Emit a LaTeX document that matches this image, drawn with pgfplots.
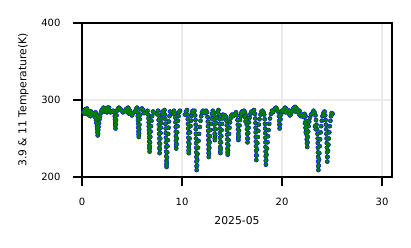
\documentclass[border=0pt]{standalone}
\usepackage{pgfplots}
\usepackage{pgfplotstable}
\pgfplotsset{compat=1.18}
\usepackage{fontspec}
\setmainfont{DejaVu Sans}
\definecolor{mplblue}{RGB}{0,0,255}
\definecolor{mplgreen}{RGB}{0,128,0}
\definecolor{gridgray}{RGB}{235,235,235}

\pgfplotstableread{
d t
0.15 284
0.25 287
0.35 288
0.45 286
0.55 283
0.65 281
0.75 280
0.85 279
0.95 281
1.05 283
0.3 282
0.5 289
0.7 285
0.9 285
1.2 282
1.3 278
1.4 274
1.45 270
1.5 266
1.52 262
1.55 258
1.57 254
1.6 257
1.62 261
1.65 265
1.7 270
1.75 275
1.8 279
1.88 283
1.35 284
1.5 280
1.65 278
1.95 286
2.05 288
2.15 290
2.25 289
2.35 287
2.45 288
2.55 290
2.65 289
2.75 286
2.85 284
2.2 285
2.5 284
2.7 290
3.0 285
3.1 286
3.2 284
3.28 279
3.3 275
3.32 271
3.33 267
3.35 263
3.37 268
3.4 274
3.45 280
3.5 286
3.6 289
3.7 290
3.8 289
3.9 287
4.0 286
4.1 284
4.3 286
4.4 288
4.5 289
4.6 290
4.7 288
4.8 286
4.9 283
5.0 280
5.1 283
4.55 284
4.75 282
5.3 285
5.4 288
5.5 290
5.55 284
5.58 279
5.6 274
5.62 269
5.63 264
5.65 259
5.67 255
5.68 252
5.7 256
5.72 262
5.75 268
5.78 275
5.82 281
5.9 288
6.0 289
6.1 287
6.2 283
6.45 283
6.55 286
6.62 281
6.65 276
6.67 271
6.68 266
6.7 261
6.71 256
6.72 251
6.73 246
6.74 241
6.75 237
6.76 233
6.78 238
6.8 245
6.83 252
6.86 259
6.9 266
6.95 273
7.0 279
7.1 285
7.2 283
7.5 282
7.6 286
7.65 280
7.67 274
7.69 268
7.7 262
7.72 256
7.73 250
7.74 244
7.75 238
7.76 231
7.78 236
7.8 243
7.82 250
7.85 257
7.88 264
7.92 270
7.96 276
8.0 281
8.05 285
8.15 283
8.25 287
8.3 281
8.33 275
8.35 269
8.37 263
8.38 257
8.39 251
8.4 245
8.41 239
8.42 233
8.43 227
8.44 221
8.45 216
8.46 213
8.48 218
8.5 225
8.52 232
8.55 240
8.58 248
8.62 256
8.66 264
8.7 272
8.75 279
8.8 285
9.1 282
9.2 286
9.3 283
9.33 277
9.35 271
9.37 265
9.38 259
9.39 253
9.4 247
9.41 241
9.42 237
9.45 243
9.48 250
9.52 258
9.56 266
9.6 273
9.65 279
9.7 284
9.8 286
10.3 281
10.4 285
10.5 287
10.55 281
10.58 275
10.6 269
10.62 263
10.63 257
10.64 251
10.65 245
10.66 239
10.67 234
10.68 231
10.7 236
10.73 243
10.76 250
10.8 258
10.85 266
10.9 273
10.95 279
11.0 284
11.08 286
11.15 283
11.25 286
11.32 280
11.35 274
11.37 268
11.38 262
11.39 256
11.4 250
11.41 244
11.42 238
11.43 232
11.44 226
11.45 220
11.46 214
11.47 209
11.5 215
11.52 222
11.55 230
11.6 238
11.65 247
11.7 256
11.78 265
11.85 273
11.92 279
12.0 284
12.1 286
12.3 283
12.4 286
12.5 284
12.55 278
12.58 272
12.6 266
12.62 260
12.63 254
12.64 248
12.65 242
12.66 236
12.67 231
12.68 226
12.7 231
12.73 238
12.76 245
12.8 253
12.85 261
12.9 269
12.95 276
13.0 282
13.08 286
13.15 284
13.2 280
13.23 274
13.25 268
13.26 262
13.27 256
13.28 250
13.29 248
13.32 254
13.36 262
13.4 270
13.45 277
13.55 284
13.65 287
13.72 281
13.75 275
13.77 269
13.78 263
13.79 257
13.8 251
13.81 245
13.82 239
13.83 234
13.84 231
13.87 237
13.9 245
13.93 253
13.96 261
14.0 269
14.05 276
14.1 281
14.2 279
14.3 280
14.4 278
14.45 273
14.48 267
14.5 261
14.52 255
14.53 249
14.54 243
14.55 237
14.56 232
14.57 229
14.6 234
14.63 241
14.66 248
14.7 256
14.75 264
14.8 271
14.85 276
14.9 279
15.0 281
15.1 279
15.2 280
15.3 282
15.4 284
15.5 280
15.55 274
15.58 268
15.6 262
15.62 256
15.63 251
15.64 248
15.67 253
15.7 260
15.75 267
15.8 274
15.85 279
15.92 283
16.0 285
16.1 283
16.2 286
16.3 284
16.4 280
16.45 274
16.48 268
16.5 262
16.52 256
16.53 250
16.55 245
16.58 250
16.62 257
16.66 264
16.7 271
16.76 277
16.85 282
16.95 285
16.25 278
16.35 272
17.1 284
17.2 287
17.3 282
17.33 276
17.35 270
17.36 264
17.37 258
17.38 252
17.39 246
17.4 240
17.41 234
17.42 228
17.43 222
17.46 228
17.5 236
17.54 244
17.58 252
17.63 260
17.68 268
17.75 275
17.85 281
17.95 285
18.05 286
18.15 284
18.22 281
18.27 275
18.3 269
18.31 263
18.32 257
18.33 251
18.34 245
18.35 239
18.36 233
18.37 227
18.38 221
18.39 216
18.42 222
18.45 229
18.5 237
18.55 245
18.6 253
18.66 261
18.72 269
18.8 276
18.9 282
19.0 286
19.1 284
19.2 287
19.3 289
19.4 290
19.5 288
19.6 285
19.7 279
19.72 273
19.74 268
19.76 263
19.8 268
19.85 275
19.9 281
20.0 286
20.1 285
20.2 288
20.3 290
20.4 289
20.5 287
20.6 285
20.7 282
20.8 280
20.9 282
21.0 285
21.1 288
21.2 290
21.3 291
21.4 290
21.5 288
21.6 285
21.7 282
21.8 280
21.9 279
22.0 281
20.35 284
20.75 286
21.35 285
21.75 286
22.15 278
22.25 282
22.35 279
22.4 273
22.43 267
22.45 261
22.47 255
22.48 249
22.5 244
22.52 239
22.55 245
22.58 252
22.62 259
22.66 266
22.72 272
22.8 277
22.9 281
22.3 270
22.35 264
22.38 258
23.05 283
23.15 286
23.25 284
23.35 280
23.4 274
23.45 268
23.5 262
23.55 256
23.57 250
23.58 244
23.59 238
23.6 232
23.61 226
23.62 220
23.63 214
23.64 209
23.67 215
23.7 223
23.73 231
23.77 240
23.81 249
23.86 258
23.92 266
23.98 273
24.05 279
23.3 266
23.38 262
24.15 283
24.25 285
24.32 280
24.36 274
24.4 268
24.42 262
24.44 256
24.46 250
24.48 244
24.5 238
24.51 232
24.52 226
24.53 220
24.56 226
24.6 234
24.64 242
24.68 250
24.73 258
24.78 266
24.84 273
24.9 279
24.97 283
25.05 282
}\tempdata

\begin{document}
\begin{tikzpicture}
\useasboundingbox (-82pt,-71pt) rectangle (329pt,177pt);
\begin{axis}[
  scale only axis,
  width=310pt, height=154pt,
  xmin=0, xmax=31, ymin=200, ymax=400,
  xtick={0,10,20,30}, ytick={200,300,400},
  tick align=outside,
  tick pos=left,
  major tick length=9pt,
  every tick/.style={black, line width=1.6pt},
  axis line style={line width=1.6pt},
  grid=major,
  major grid style={gridgray, line width=1.6pt},
  tick label style={font=\fontsize{10}{12}\selectfont},
  /pgf/number format/assume math mode=true,
  yticklabel style={xshift=-9pt},
  xticklabel style={yshift=-9pt},
  xlabel={2025-05},
  ylabel={3.9 \& 11 Temperature(K)},
  label style={font=\fontsize{10.8}{13}\selectfont},
  xlabel style={yshift=-4pt},
  ylabel style={yshift=6pt},
]
\addplot[only marks, mark=*, mark size=2.1pt, mplblue, mark options={draw=none, fill=mplblue}] table[x=d, y=t] {\tempdata};
\addplot[only marks, mark=*, mark size=1.8pt, mplgreen, mark options={draw=none, fill=mplgreen}] table[x=d, y=t] {\tempdata};
\end{axis}
\end{tikzpicture}
\end{document}
